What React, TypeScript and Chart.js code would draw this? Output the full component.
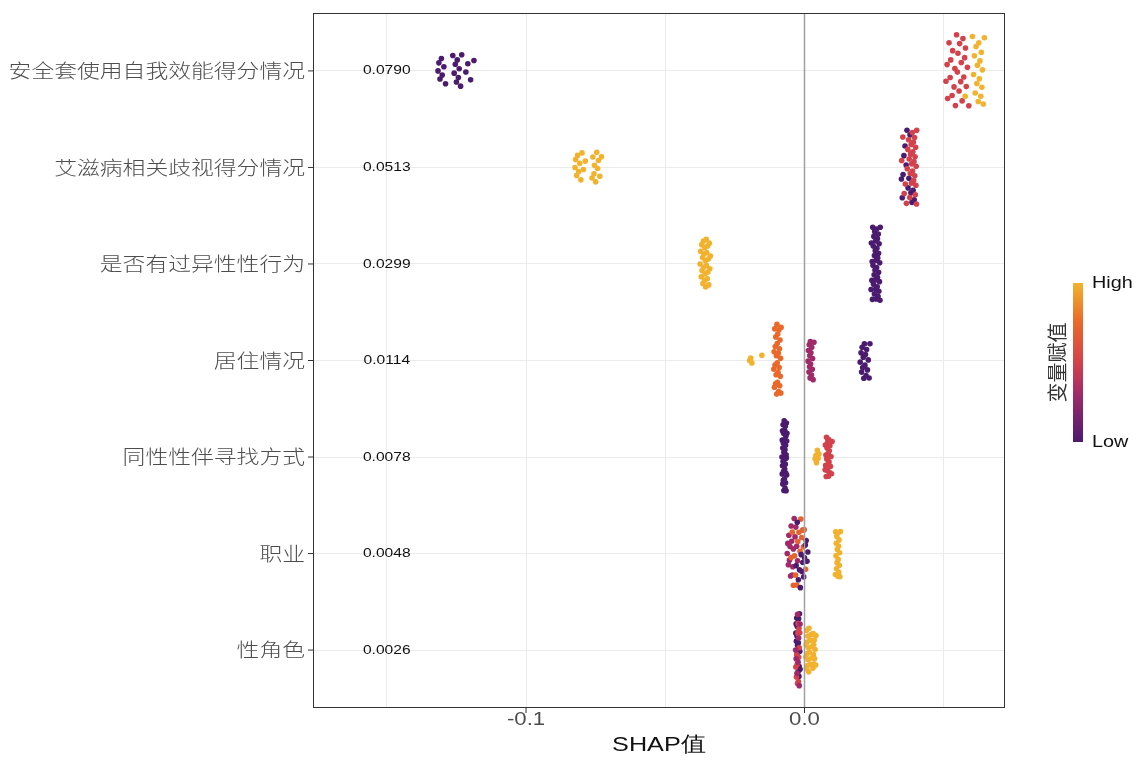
import React, { useEffect, useRef } from 'react';
import { Chart, registerables } from 'chart.js';

Chart.register(...registerables);

// ---------- data ----------
const features = [
  '安全套使用自我效能得分情况',
  '艾滋病相关歧视得分情况',
  '是否有过异性性行为',
  '居住情况',
  '同性性伴寻找方式',
  '职业',
  '性角色',
];
const meanAbsShap = ['0.0790', '0.0513', '0.0299', '0.0114', '0.0078', '0.0048', '0.0026'];
const meanLabelX = -0.15;

const xGridValues = [-0.15, -0.1, -0.05, 0, 0.05];
const xTickValues = [-0.1, 0];
const xTickLabels = ['-0.1', '0.0'];
const xMin = -0.1765;
const xMax = 0.072;
const xTitle = 'SHAP值';
const legendTitle = '变量赋值';
const legendHigh = 'High';
const legendLow = 'Low';

// SHAP values (x) and normalised feature values (colour, 0 = low, 1 = high)
const shapCondom = [
  -0.1316, -0.1313, -0.1309, -0.1304, -0.1301, -0.1295, -0.1289, -0.1263, -0.1258, -0.1254,
  -0.1250, -0.1247, -0.1243, -0.1240, -0.1235, -0.1231, -0.1216, -0.1209, -0.1199, -0.1187,
  0.0508, 0.0512, 0.0514, 0.0519, 0.0523, 0.0525, 0.0530, 0.0532, 0.0537, 0.0540,
  0.0542, 0.0546, 0.0549, 0.0551, 0.0555, 0.0557, 0.0561, 0.0563, 0.0566, 0.0569,
  0.0572, 0.0575, 0.0578, 0.0581, 0.0585, 0.0590,
  0.0577, 0.0603, 0.0607, 0.0610, 0.0613, 0.0616, 0.0619, 0.0621, 0.0624, 0.0626,
  0.0628, 0.0630, 0.0633, 0.0635, 0.0637, 0.0639, 0.0642, 0.0646,
];
const fvalCondom = [
  0, 0, 0, 0, 0, 0, 0, 0, 0, 0, 0, 0, 0, 0, 0, 0, 0, 0, 0, 0,
  0.5, 0.5, 0.5, 0.5, 0.5, 0.5, 0.5, 0.5, 0.5, 0.5, 0.5, 0.5, 0.5,
  0.5, 0.5, 0.5, 0.5, 0.5, 0.5, 0.5, 0.5, 0.5, 0.5, 0.5, 0.5, 0.5,
  1, 1, 1, 1, 1, 1, 1, 1, 1, 1, 1, 1, 1, 1, 1, 1, 1, 1,
];

const shapStigma = [
  -0.0824, -0.0822, -0.0818, -0.0815, -0.0811, -0.0807, -0.0803, -0.0799, -0.0794, -0.0787,
  -0.0763, -0.0760, -0.0756, -0.0754, -0.0750, -0.0746, -0.0743, -0.0740, -0.0735, -0.0729,
  0.0348, 0.0351, 0.0354, 0.0357, 0.0361, 0.0365, 0.0368, 0.0372, 0.0375, 0.0379,
  0.0382, 0.0386, 0.0390, 0.0394,
  0.0349, 0.0353, 0.0358, 0.0362, 0.0366, 0.0369, 0.0371, 0.0374, 0.0376, 0.0378,
  0.0380, 0.0381, 0.0383, 0.0384, 0.0385, 0.0387, 0.0388, 0.0389, 0.0391, 0.0392,
  0.0393, 0.0395, 0.0396, 0.0397, 0.0398, 0.0399, 0.0400, 0.0401, 0.0402, 0.0403,
];
const fvalStigma = [
  1, 1, 1, 1, 1, 1, 1, 1, 1, 1, 1, 1, 1, 1, 1, 1, 1, 1, 1, 1,
  0, 0, 0, 0, 0, 0, 0, 0, 0, 0, 0, 0, 0, 0,
  0.5, 0.5, 0.5, 0.5, 0.5, 0.5, 0.5, 0.5, 0.5, 0.5, 0.5, 0.5, 0.5, 0.5, 0.5,
  0.5, 0.5, 0.5, 0.5, 0.5, 0.5, 0.5, 0.5, 0.5, 0.5, 0.5, 0.5, 0.5, 0.5, 0.5,
];

const shapHetero = [
  -0.0375, -0.0373, -0.0371, -0.0369, -0.0368, -0.0366, -0.0365, -0.0363, -0.0362, -0.0361,
  -0.0359, -0.0358, -0.0357, -0.0356, -0.0355, -0.0353, -0.0352, -0.0351, -0.0349, -0.0348,
  -0.0347, -0.0345, -0.0344, -0.0342, -0.0340, -0.0338,
  0.0239, 0.0240, 0.0242, 0.0243, 0.0244, 0.0245, 0.0246, 0.0247, 0.0248, 0.0249,
  0.0250, 0.0251, 0.0251, 0.0252, 0.0253, 0.0254, 0.0255, 0.0255, 0.0256, 0.0257,
  0.0258, 0.0259, 0.0259, 0.0260, 0.0261, 0.0262, 0.0262, 0.0263, 0.0264, 0.0265,
  0.0266, 0.0266, 0.0267, 0.0268, 0.0269, 0.0270, 0.0271, 0.0272,
];
const fvalHetero = [
  1, 1, 1, 1, 1, 1, 1, 1, 1, 1, 1, 1, 1, 1, 1, 1, 1, 1, 1, 1, 1, 1, 1, 1, 1, 1,
  0, 0, 0, 0, 0, 0, 0, 0, 0, 0, 0, 0, 0, 0, 0, 0, 0, 0, 0,
  0, 0, 0, 0, 0, 0, 0, 0, 0, 0, 0, 0, 0, 0, 0, 0, 0, 0, 0,
];

const shapLiving = [
  -0.0197, -0.0193, -0.0189, -0.0153,
  -0.0110, -0.0109, -0.0108, -0.0107, -0.0106, -0.0105, -0.0104, -0.0103, -0.0102, -0.0101,
  -0.0100, -0.0099, -0.0098, -0.0098, -0.0097, -0.0096, -0.0095, -0.0094, -0.0093, -0.0092,
  -0.0091, -0.0090, -0.0089, -0.0088, -0.0087, -0.0086, -0.0085, -0.0084,
  0.0013, 0.0014, 0.0016, 0.0017, 0.0018, 0.0019, 0.0020, 0.0021, 0.0022, 0.0023,
  0.0025, 0.0026, 0.0028, 0.0029, 0.0031, 0.0034,
  0.0200, 0.0203, 0.0205, 0.0207, 0.0209, 0.0211, 0.0213, 0.0215, 0.0217, 0.0219,
  0.0221, 0.0223, 0.0226, 0.0229, 0.0232, 0.0235,
];
const fvalLiving = [
  1, 1, 1, 1,
  0.75, 0.75, 0.75, 0.75, 0.75, 0.75, 0.75, 0.75, 0.75, 0.75, 0.75, 0.75, 0.75, 0.75,
  0.75, 0.75, 0.75, 0.75, 0.75, 0.75, 0.75, 0.75, 0.75, 0.75, 0.75, 0.75, 0.75, 0.75,
  0.3, 0.3, 0.3, 0.3, 0.3, 0.3, 0.3, 0.3, 0.3, 0.3, 0.3, 0.3, 0.3, 0.3, 0.3, 0.3,
  0, 0, 0, 0, 0, 0, 0, 0, 0, 0, 0, 0, 0, 0, 0, 0,
];

const shapPartner = [
  -0.0081, -0.0080, -0.0080, -0.0079, -0.0079, -0.0078, -0.0078, -0.0077, -0.0077, -0.0076,
  -0.0076, -0.0075, -0.0075, -0.0074, -0.0074, -0.0073, -0.0073, -0.0072, -0.0072, -0.0071,
  -0.0071, -0.0070, -0.0070, -0.0069, -0.0069, -0.0068, -0.0068, -0.0067, -0.0067, -0.0066,
  -0.0066, -0.0065, -0.0065, -0.0064, -0.0064, -0.0063,
  0.0038, 0.0041, 0.0043, 0.0046, 0.0049, 0.0052,
  0.0074, 0.0075, 0.0076, 0.0077, 0.0078, 0.0079, 0.0080, 0.0081, 0.0082, 0.0083,
  0.0084, 0.0085, 0.0086, 0.0087, 0.0088, 0.0089, 0.0090, 0.0091, 0.0093, 0.0095,
  0.0097, 0.0099,
];
const fvalPartner = [
  0, 0, 0, 0, 0, 0, 0, 0, 0, 0, 0, 0, 0, 0, 0, 0, 0, 0,
  0, 0, 0, 0, 0, 0, 0, 0, 0, 0, 0, 0, 0, 0, 0, 0, 0, 0,
  1, 1, 1, 1, 1, 1,
  0.5, 0.5, 0.5, 0.5, 0.5, 0.5, 0.5, 0.5, 0.5, 0.5, 0.5,
  0.5, 0.5, 0.5, 0.5, 0.5, 0.5, 0.5, 0.5, 0.5, 0.5, 0.5,
];

const shapJob = [
  -0.0062, -0.0060, -0.0058, -0.0056, -0.0054, -0.0052, -0.0050, -0.0048, -0.0046, -0.0044,
  -0.0042, -0.0040, -0.0037, -0.0034, -0.0031, -0.0028, -0.0025,
  -0.0048, -0.0044, -0.0040, -0.0036, -0.0032, -0.0028, -0.0024, -0.0020, -0.0016, -0.0013,
  -0.0010, -0.0007, -0.0004, -0.0001, 0.0004,
  -0.0030, -0.0026, -0.0022, -0.0018, -0.0015, -0.0012, -0.0009, -0.0006, -0.0003, 0.0000,
  0.0003, 0.0006, 0.0009, 0.0012,
  0.0111, 0.0112, 0.0113, 0.0114, 0.0115, 0.0116, 0.0117, 0.0118, 0.0119, 0.0120,
  0.0121, 0.0122, 0.0123, 0.0124, 0.0125, 0.0126, 0.0127, 0.0129,
];
const fvalJob = [
  0.3, 0.3, 0.3, 0.3, 0.3, 0.3, 0.3, 0.3, 0.3, 0.3, 0.3, 0.3, 0.3, 0.3, 0.3, 0.3, 0.3,
  0.72, 0.72, 0.72, 0.72, 0.72, 0.72, 0.72, 0.72, 0.72, 0.72, 0.72, 0.72, 0.72, 0.72, 0.72,
  0, 0, 0, 0, 0, 0, 0, 0, 0, 0, 0, 0, 0, 0,
  1, 1, 1, 1, 1, 1, 1, 1, 1, 1, 1, 1, 1, 1, 1, 1, 1, 1,
];

const shapRole = [
  -0.0031, -0.0030, -0.0029, -0.0028, -0.0027, -0.0026, -0.0025, -0.0024, -0.0023, -0.0022,
  -0.0021, -0.0020, -0.0019, -0.0018, -0.0017, -0.0016,
  -0.0031, -0.0029, -0.0028, -0.0026, -0.0025, -0.0024, -0.0023, -0.0022, -0.0021, -0.0020,
  -0.0019, -0.0017,
  -0.0032, -0.0030, -0.0027, -0.0025, -0.0023, -0.0021, -0.0019, -0.0016,
  0.0005, 0.0006, 0.0007, 0.0008, 0.0009, 0.0010, 0.0011, 0.0012, 0.0013, 0.0014,
  0.0015, 0.0016, 0.0018, 0.0020, 0.0022, 0.0024, 0.0026, 0.0028, 0.0030, 0.0031,
  0.0032, 0.0033, 0.0034, 0.0035, 0.0036, 0.0038, 0.0040, 0.0041,
];
const fvalRole = [
  0, 0, 0, 0, 0, 0, 0, 0, 0, 0, 0, 0, 0, 0, 0, 0,
  0.5, 0.5, 0.5, 0.5, 0.5, 0.5, 0.5, 0.5, 0.5, 0.5, 0.5, 0.5,
  0.3, 0.3, 0.3, 0.3, 0.3, 0.3, 0.3, 0.3,
  1, 1, 1, 1, 1, 1, 1, 1, 1, 1, 1, 1, 1, 1,
  1, 1, 1, 1, 1, 1, 1, 1, 1, 1, 1, 1, 1, 1,
];

const shapRows = [shapCondom, shapStigma, shapHetero, shapLiving, shapPartner, shapJob, shapRole];
const fvalRows = [fvalCondom, fvalStigma, fvalHetero, fvalLiving, fvalPartner, fvalJob, fvalRole];

// colour scale stops (low -> high)
const colorStops: [number, string][] = [
  [0, '#4b1b70'],
  [0.3, '#a02a69'],
  [0.5, '#d3414b'],
  [0.75, '#e9682a'],
  [1, '#f2b22e'],
];

// ---------- helpers ----------
function hexToRgb(h: string) {
  const n = parseInt(h.slice(1), 16);
  return [(n >> 16) & 255, (n >> 8) & 255, n & 255];
}
function colorFor(v: number) {
  for (let i = 1; i < colorStops.length; i++) {
    const [p1, c1] = colorStops[i];
    const [p0, c0] = colorStops[i - 1];
    if (v <= p1) {
      const t = (v - p0) / (p1 - p0 || 1);
      const a = hexToRgb(c0), b = hexToRgb(c1);
      const c = a.map((x, k) => Math.round(x + (b[k] - x) * t));
      return `rgb(${c[0]},${c[1]},${c[2]})`;
    }
  }
  return colorStops[colorStops.length - 1][1];
}

function vanDerCorput(i: number) {
  let r = 0, f = 0.5, n = i;
  while (n > 0) { r += f * (n % 2); n = Math.floor(n / 2); f /= 2; }
  return r;
}
function quantile(sorted: number[], p: number) {
  const h = (sorted.length - 1) * p;
  const lo = Math.floor(h);
  const hi = Math.ceil(h);
  return sorted[lo] + (sorted[hi] - sorted[lo]) * (h - lo);
}
// quasirandom (vipor-style) offsets, layout only
function quasiOffsets(xs: number[], width: number) {
  const n = xs.length;
  const sorted = [...xs].sort((a, b) => a - b);
  const mean = xs.reduce((s, v) => s + v, 0) / n;
  const sd = Math.sqrt(xs.reduce((s, v) => s + (v - mean) ** 2, 0) / (n - 1));
  const iqr = (quantile(sorted, 0.75) - quantile(sorted, 0.25)) / 1.34;
  let bw = 0.9 * Math.min(sd, iqr) * Math.pow(n, -0.2) * 0.5;
  bw = Math.min(Math.max(bw, 0.0015), 0.012);
  const dens = (x: number) => xs.reduce((s, v) => s + Math.exp(-0.5 * ((x - v) / bw) ** 2), 0);
  const lo = sorted[0] - 3 * bw, hi = sorted[n - 1] + 3 * bw;
  let maxD = 0;
  for (let k = 0; k < 512; k++) maxD = Math.max(maxD, dens(lo + ((hi - lo) * k) / 511));
  const order = xs.map((_, i) => i).sort((a, b) => xs[a] - xs[b] || a - b);
  const offs: number[] = new Array(n);
  order.forEach((idx, r) => {
    offs[idx] = (vanDerCorput(r + 1) - 0.5) * 2 * width * (dens(xs[idx]) / maxD);
  });
  return offs;
}

function drawText(
  ctx: CanvasRenderingContext2D, text: string, x: number, y: number,
  align: CanvasTextAlign, font: string, color: string, sx = 1.2,
) {
  ctx.save();
  ctx.font = font;
  ctx.fillStyle = color;
  ctx.textBaseline = 'middle';
  ctx.textAlign = align;
  ctx.translate(x, y);
  ctx.scale(sx, 1);
  ctx.fillText(text, 0, 0);
  ctx.restore();
}

const LATIN = '"Liberation Sans", Arial, sans-serif';
const CJK = '"Noto Sans CJK SC", sans-serif';

export default function App() {
  const ref = useRef<HTMLCanvasElement | null>(null);

  useEffect(() => {
    if (!ref.current) return;
    const points: { x: number; y: number }[] = [];
    const colors: string[] = [];
    shapRows.forEach((xs, row) => {
      const fv = fvalRows[row];
      const m = Math.min(xs.length, fv.length);
      const offs = quasiOffsets(xs.slice(0, m), 0.4);
      for (let i = 0; i < m; i++) {
        points.push({ x: xs[i], y: row + offs[i] });
        colors.push(colorFor(fv[i]));
      }
    });

    const overlay = {
      id: 'overlay',
      afterDatasetsDraw(chart: any) {
        const { ctx, chartArea: a, scales } = chart;
        const xs = scales.x;
        ctx.save();
        ctx.strokeStyle = '#a0a0a0';
        ctx.lineWidth = 1.5;
        const x0 = xs.getPixelForValue(0);
        ctx.beginPath();
        ctx.moveTo(x0, a.top);
        ctx.lineTo(x0, a.bottom);
        ctx.stroke();
        ctx.restore();
      },
      afterDraw(chart: any) {
        const { ctx, chartArea: a, scales } = chart;
        const xs = scales.x, ys = scales.y;
        ctx.save();
        ctx.strokeStyle = '#333333';
        ctx.lineWidth = 1;
        ctx.strokeRect(a.left + 0.5, a.top + 0.5, a.right - a.left - 1, a.bottom - a.top - 1);
        features.forEach((f, i) => {
          const y = ys.getPixelForValue(i);
          ctx.beginPath();
          ctx.moveTo(a.left - 5, y);
          ctx.lineTo(a.left, y);
          ctx.stroke();
          drawText(ctx, f, a.left - 8, y, 'right', `300 19px ${CJK}`, '#4d4d4d');
          drawText(ctx, meanAbsShap[i], xs.getPixelForValue(meanLabelX), y, 'center', `13px ${LATIN}`, '#111111');
        });
        xTickValues.forEach((v, i) => {
          const x = xs.getPixelForValue(v);
          ctx.beginPath();
          ctx.moveTo(x, a.bottom);
          ctx.lineTo(x, a.bottom + 5);
          ctx.stroke();
          drawText(ctx, xTickLabels[i], x, a.bottom + 12, 'center', `18.5px ${LATIN}`, '#4d4d4d');
        });
        drawText(ctx, xTitle, (a.left + a.right) / 2, 745, 'center', `21px ${LATIN}`, '#111111');
        const bx = 1073, bw = 10, by0 = 283, by1 = 442;
        const g = ctx.createLinearGradient(0, by1, 0, by0);
        colorStops.forEach(([p, c]) => g.addColorStop(p, c));
        ctx.fillStyle = g;
        ctx.fillRect(bx, by0, bw, by1 - by0);
        drawText(ctx, legendHigh, bx + 19, by0, 'left', `16.5px ${LATIN}`, '#111111');
        drawText(ctx, legendLow, bx + 19, by1, 'left', `16.5px ${LATIN}`, '#111111');
        ctx.save();
        ctx.translate(1057, (by0 + by1) / 2);
        ctx.rotate(-Math.PI / 2);
        ctx.font = `20px ${CJK}`;
        ctx.fillStyle = '#333333';
        ctx.textAlign = 'center';
        ctx.textBaseline = 'middle';
        ctx.fillText(legendTitle, 0, 0);
        ctx.restore();
        ctx.restore();
      },
    };

    const chart = new Chart(ref.current, {
      type: 'scatter',
      data: {
        datasets: [
          {
            data: points,
            backgroundColor: colors,
            pointRadius: 2.8,
            pointHoverRadius: 2.8,
            borderWidth: 0,
          },
        ],
      },
      options: {
        animation: false,
        responsive: true,
        maintainAspectRatio: false,
        layout: { padding: { left: 0, top: 13, right: 138, bottom: 0 } },
        plugins: { legend: { display: false }, tooltip: { enabled: false } },
        scales: {
          x: {
            type: 'linear',
            min: xMin,
            max: xMax,
            afterBuildTicks: (s: any) => { s.ticks = xGridValues.map((v) => ({ value: v })); },
            afterFit: (s: any) => { s.height = 52; },
            ticks: { display: false },
            grid: { color: '#ebebeb', lineWidth: 1, drawTicks: false },
            border: { display: false },
          },
          y: {
            type: 'linear',
            reverse: true,
            min: -0.6,
            max: features.length - 0.4,
            afterBuildTicks: (s: any) => { s.ticks = features.map((_, i) => ({ value: i })); },
            afterFit: (s: any) => { s.width = 313; },
            ticks: { display: false },
            grid: { color: '#ebebeb', lineWidth: 1, drawTicks: false },
            border: { display: false },
          },
        },
      },
      plugins: [overlay],
    });
    return () => chart.destroy();
  }, []);

  return (
    <div style={{ position: 'fixed', left: 0, top: 0, width: 1143, height: 760, background: '#ffffff' }}>
      <canvas ref={ref} />
    </div>
  );
}
